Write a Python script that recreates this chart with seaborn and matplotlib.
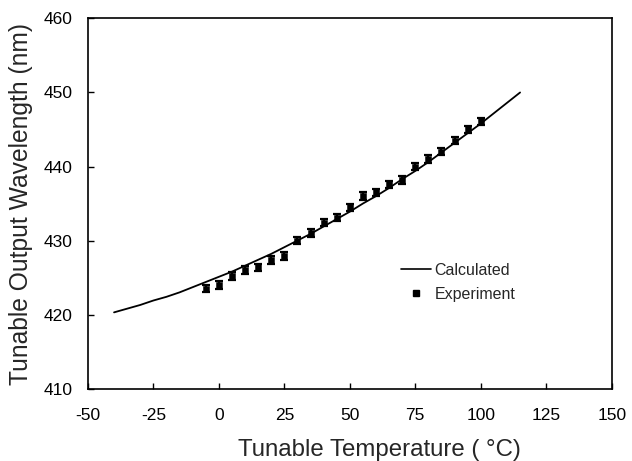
import matplotlib
matplotlib.use("Agg")
import matplotlib.pyplot as plt
import seaborn as sns
import numpy as np
import pandas as pd
from matplotlib.lines import Line2D

# Calculated curve
calc_T = [-40, -35, -30, -25, -20, -15, -10, -5, 0, 5, 10, 15, 20, 25, 30, 35, 40,
          45, 50, 55, 60, 65, 70, 75, 80, 85, 90, 95, 100, 105, 110, 115]
calc_wl = [420.3, 420.8, 421.3, 421.9, 422.4, 423.0, 423.7, 424.4, 425.1, 425.8, 426.6,
           427.4, 428.2, 429.1, 430.0, 430.9, 431.9, 432.9, 433.9, 435.0, 436.0, 437.1,
           438.3, 439.4, 440.6, 441.9, 443.2, 444.5, 445.8, 447.2, 448.6, 450.0]

# Experiment points
exp_T = [-5, 0, 5, 10, 15, 20, 25, 30, 35, 40, 45, 50, 55, 60, 65, 70, 75, 80, 85, 90, 95, 100]
exp_wl = [423.5, 424.0, 425.2, 426.0, 426.4, 427.4, 427.9, 430.0, 431.0, 432.4, 433.1,
          434.5, 436.0, 436.5, 437.6, 438.2, 440.0, 441.0, 442.0, 443.5, 445.0, 446.1]
exp_err = [0.5] * len(exp_T)

x_ticks = [-50, -25, 0, 25, 50, 75, 100, 125, 150]
y_ticks = [410, 420, 430, 440, 450, 460]

sns.set_style("ticks")
plt.rcParams['font.family'] = ['Liberation Sans', 'DejaVu Sans']
plt.rcParams['axes.unicode_minus'] = False

fig = plt.figure(figsize=(6.32, 4.61), dpi=100)
ax = fig.add_axes([0.139, 0.157, 0.829, 0.803])

calc_df = pd.DataFrame({"T": calc_T, "wl": calc_wl})
sns.lineplot(data=calc_df, x="T", y="wl", ax=ax, color="black", linewidth=1.3)

exp_df = pd.DataFrame({"T": exp_T, "wl": exp_wl})
ax.errorbar(exp_T, exp_wl, yerr=exp_err, fmt="none", ecolor="black",
            elinewidth=1.6, capsize=3, capthick=1.6, zorder=3)
sns.scatterplot(data=exp_df, x="T", y="wl", ax=ax, marker="s", s=22,
                color="black", edgecolor="black", zorder=4)

ax.set_xlim(-50, 150)
ax.set_ylim(410, 460)
ax.set_xticks(x_ticks)
ax.set_yticks(y_ticks)
ax.tick_params(direction="in", length=4, width=1, labelsize=12.5, colors="black")
ax.tick_params(axis="x", pad=14)
ax.tick_params(axis="y", pad=11)
for s in ax.spines.values():
    s.set_linewidth(1.2)
    s.set_color("black")

ax.set_xlabel("Tunable Temperature ( °C)", fontsize=17.3)
ax.set_ylabel("Tunable Output Wavelength (nm)", fontsize=17.7)
ax.xaxis.set_label_coords(0.557, -0.135)
ax.yaxis.set_label_coords(-0.104, 0.5)

handles = [Line2D([0], [0], color="black", lw=1.2),
           Line2D([0], [0], color="black", marker="s", ls="none", markersize=4.5)]
ax.legend(handles, ["Calculated", "Experiment"], loc="upper left",
          bbox_to_anchor=(0.57, 0.378), frameon=False, fontsize=11.5,
          handlelength=1.9, handletextpad=0.2, labelspacing=0.55)

fig.savefig("out.png", dpi=100)
